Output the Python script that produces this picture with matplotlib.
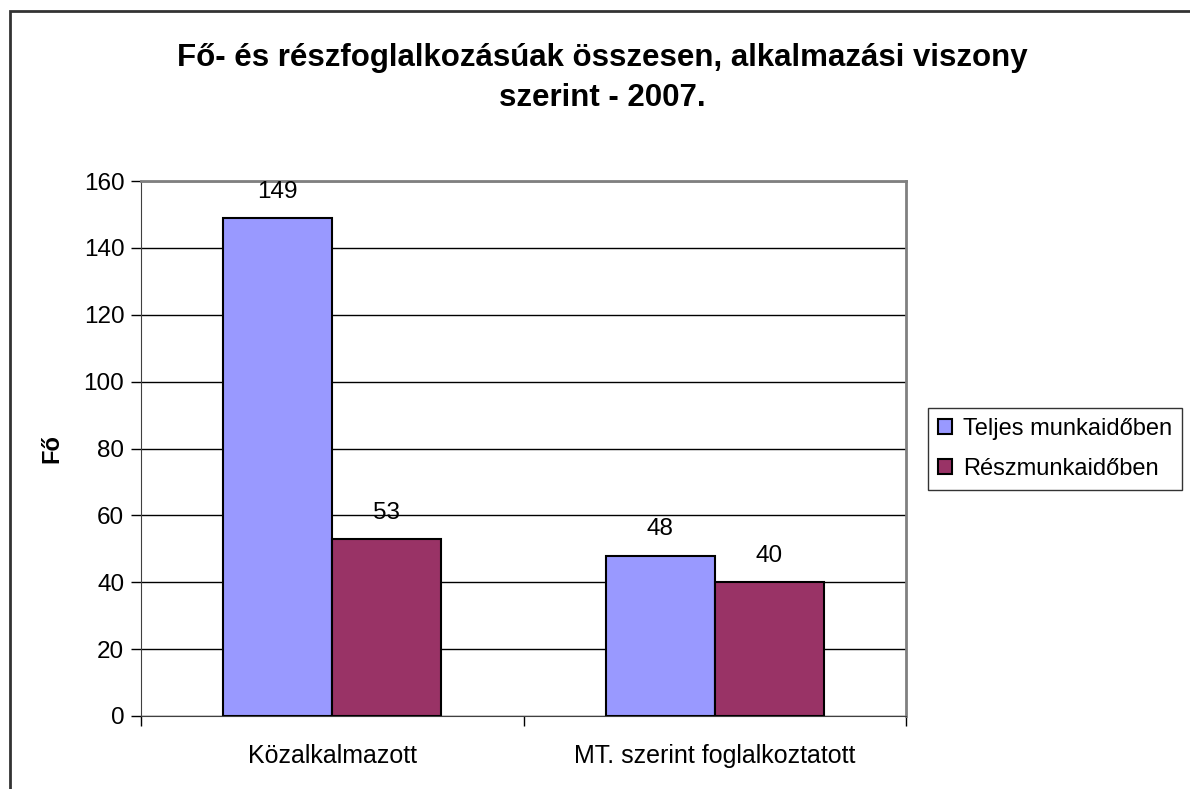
import matplotlib
matplotlib.use("Agg")
import matplotlib.pyplot as plt
import numpy as np
from matplotlib.patches import Rectangle

plt.rcParams['font.family'] = ['Liberation Sans', 'DejaVu Sans']

categories = ["Közalkalmazott", "MT. szerint foglalkoztatott"]
series_names = ["Teljes munkaidőben", "Részmunkaidőben"]
full_time = [149, 48]
part_time = [53, 40]
yticks = [0, 20, 40, 60, 80, 100, 120, 140, 160]
title = "Fő- és részfoglalkozásúak összesen, alkalmazási viszony\nszerint - 2007."
ylabel = "Fő"

colors = ["#9999FF", "#993366"]

fig = plt.figure(figsize=(11.9, 7.89), dpi=100)
ax = fig.add_axes([141/1190, 1 - 716/789, (906-141)/1190, (716-181)/789])

x = np.arange(len(categories))
w = 0.285
for i, (vals, name) in enumerate(zip([full_time, part_time], series_names)):
    pos = x + (i - 0.5) * w
    bars = ax.bar(pos, vals, width=w, color=colors[i], edgecolor="black",
                  linewidth=1.5, label=name, zorder=3)
    for b, v in zip(bars, vals):
        ax.annotate(str(v), (b.get_x() + b.get_width()/2, v), xytext=(0, 11),
                    textcoords="offset points", ha="center", va="bottom",
                    fontsize=17.5)

ax.set_xlim(-0.5, len(categories) - 0.5)
ax.set_ylim(0, 160)
ax.set_yticks(yticks)
ax.set_yticklabels([str(t) for t in yticks], fontsize=17.5)
ax.yaxis.grid(True, color="black", linewidth=1, zorder=0)
ax.set_axisbelow(True)

ax.set_xticks(np.arange(len(categories) + 1) - 0.5)
ax.set_xticklabels([])
ax.set_xticks(x, minor=True)
ax.set_xticklabels(categories, minor=True, fontsize=18)
ax.tick_params(axis="x", which="minor", length=0, pad=20)
ax.tick_params(axis="x", which="major", length=7, width=1, direction="out")
ax.tick_params(axis="y", length=7, width=1, direction="out", pad=5)

for s in ["top", "right"]:
    ax.spines[s].set_color("#808080")
    ax.spines[s].set_linewidth(2)
ax.spines["left"].set_color("#404040")
ax.spines["bottom"].set_color("#404040")

ax.set_ylabel(ylabel, fontsize=17, fontweight="bold")
ax.yaxis.set_label_coords((63 - 141) / (906 - 141), 0.5)

fig.text(602/1190, 1 - 78/789, title, ha="center", va="center",
         fontsize=22.5, fontweight="bold", linespacing=1.42)

leg = fig.legend(loc="upper left", bbox_to_anchor=(928/1190, 1 - 408/789),
                 fontsize=17, frameon=True, fancybox=False, edgecolor="black",
                 handlelength=0.6, handleheight=0.6, handletextpad=0.45,
                 borderpad=0.42, labelspacing=0.75, borderaxespad=0)
leg.get_frame().set_linewidth(1)

fig.patches.append(Rectangle((10/1190, -0.1), 1.2, (1 - 11/789) + 0.1,
                             transform=fig.transFigure, fill=False,
                             edgecolor="#333333", linewidth=2))

fig.savefig("out.png", dpi=100)
